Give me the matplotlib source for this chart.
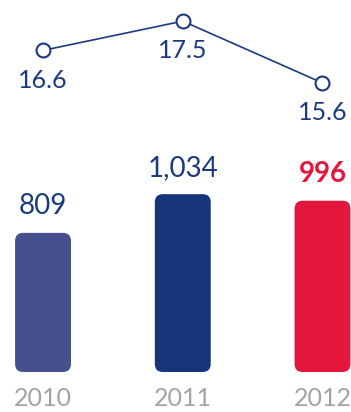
import matplotlib
matplotlib.use("Agg")
import matplotlib.pyplot as plt
from matplotlib.patches import FancyBboxPatch

years = ["2010", "2011", "2012"]
bar_values = [809, 1034, 996]
bar_labels = ["809", "1,034", "996"]
line_values = [16.6, 17.5, 15.6]
line_labels = ["16.6", "17.5", "15.6"]

bar_colors = ["#46508c", "#15347c", "#e3163d"]
label_colors = ["#1b3a80", "#1b3a80", "#e3163d"]
label_weights = ["normal", "normal", "bold"]
navy = "#1b3a80"

W, H = 351, 412
fig = plt.figure(figsize=(W / 100, H / 100), dpi=100)
plt.rcParams['font.family'] = ['Lato', 'DejaVu Sans']

x = list(range(len(years)))
xlim = (-0.308, 2.204)

# bars
ax = fig.add_axes([0, 40 / H, 1, (H - 40) / H])
ax.set_xlim(*xlim)
ax.set_ylim(0, 2163)
width = 0.4
px_x = W / (xlim[1] - xlim[0])
px_y = (H - 40) / 2163
radius = 8 / px_x
for xi, v, c in zip(x, bar_values, bar_colors):
    p = FancyBboxPatch((xi - width / 2, 0), width, v,
                       boxstyle=f"round,pad=0,rounding_size={radius}",
                       mutation_aspect=px_x / px_y,
                       facecolor=c, edgecolor="none")
    ax.add_patch(p)
for xi, v, t, c, w in zip(x, bar_values, bar_labels, label_colors, label_weights):
    ax.annotate(t, (xi, v), xytext=(0, 19), textcoords="offset points",
                ha="center", va="center", fontsize=20, color=c, fontweight=w)
ax.set_xticks(x)
ax.set_xticklabels(years, fontsize=18, color="#a3a3a3")
ax.tick_params(axis="x", length=0, pad=11)
ax.set_yticks([])
for s in ax.spines.values():
    s.set_visible(False)
ax.patch.set_alpha(0)

# line
ax2 = fig.add_axes([0, 0, 1, 1])
ax2.set_xlim(*xlim)
ax2.set_ylim(5.48, 18.15)
ax2.plot(x, line_values, color=navy, linewidth=1.2, marker="o", markersize=10,
         markerfacecolor="white", markeredgecolor=navy, markeredgewidth=1.5)
for xi, v, t in zip(x, line_values, line_labels):
    ax2.annotate(t, (xi, v), xytext=(0, -21.5), textcoords="offset points",
                 ha="center", va="center", fontsize=18, color=navy)
ax2.axis("off")
ax2.patch.set_alpha(0)

fig.savefig("out.png", dpi=100)
